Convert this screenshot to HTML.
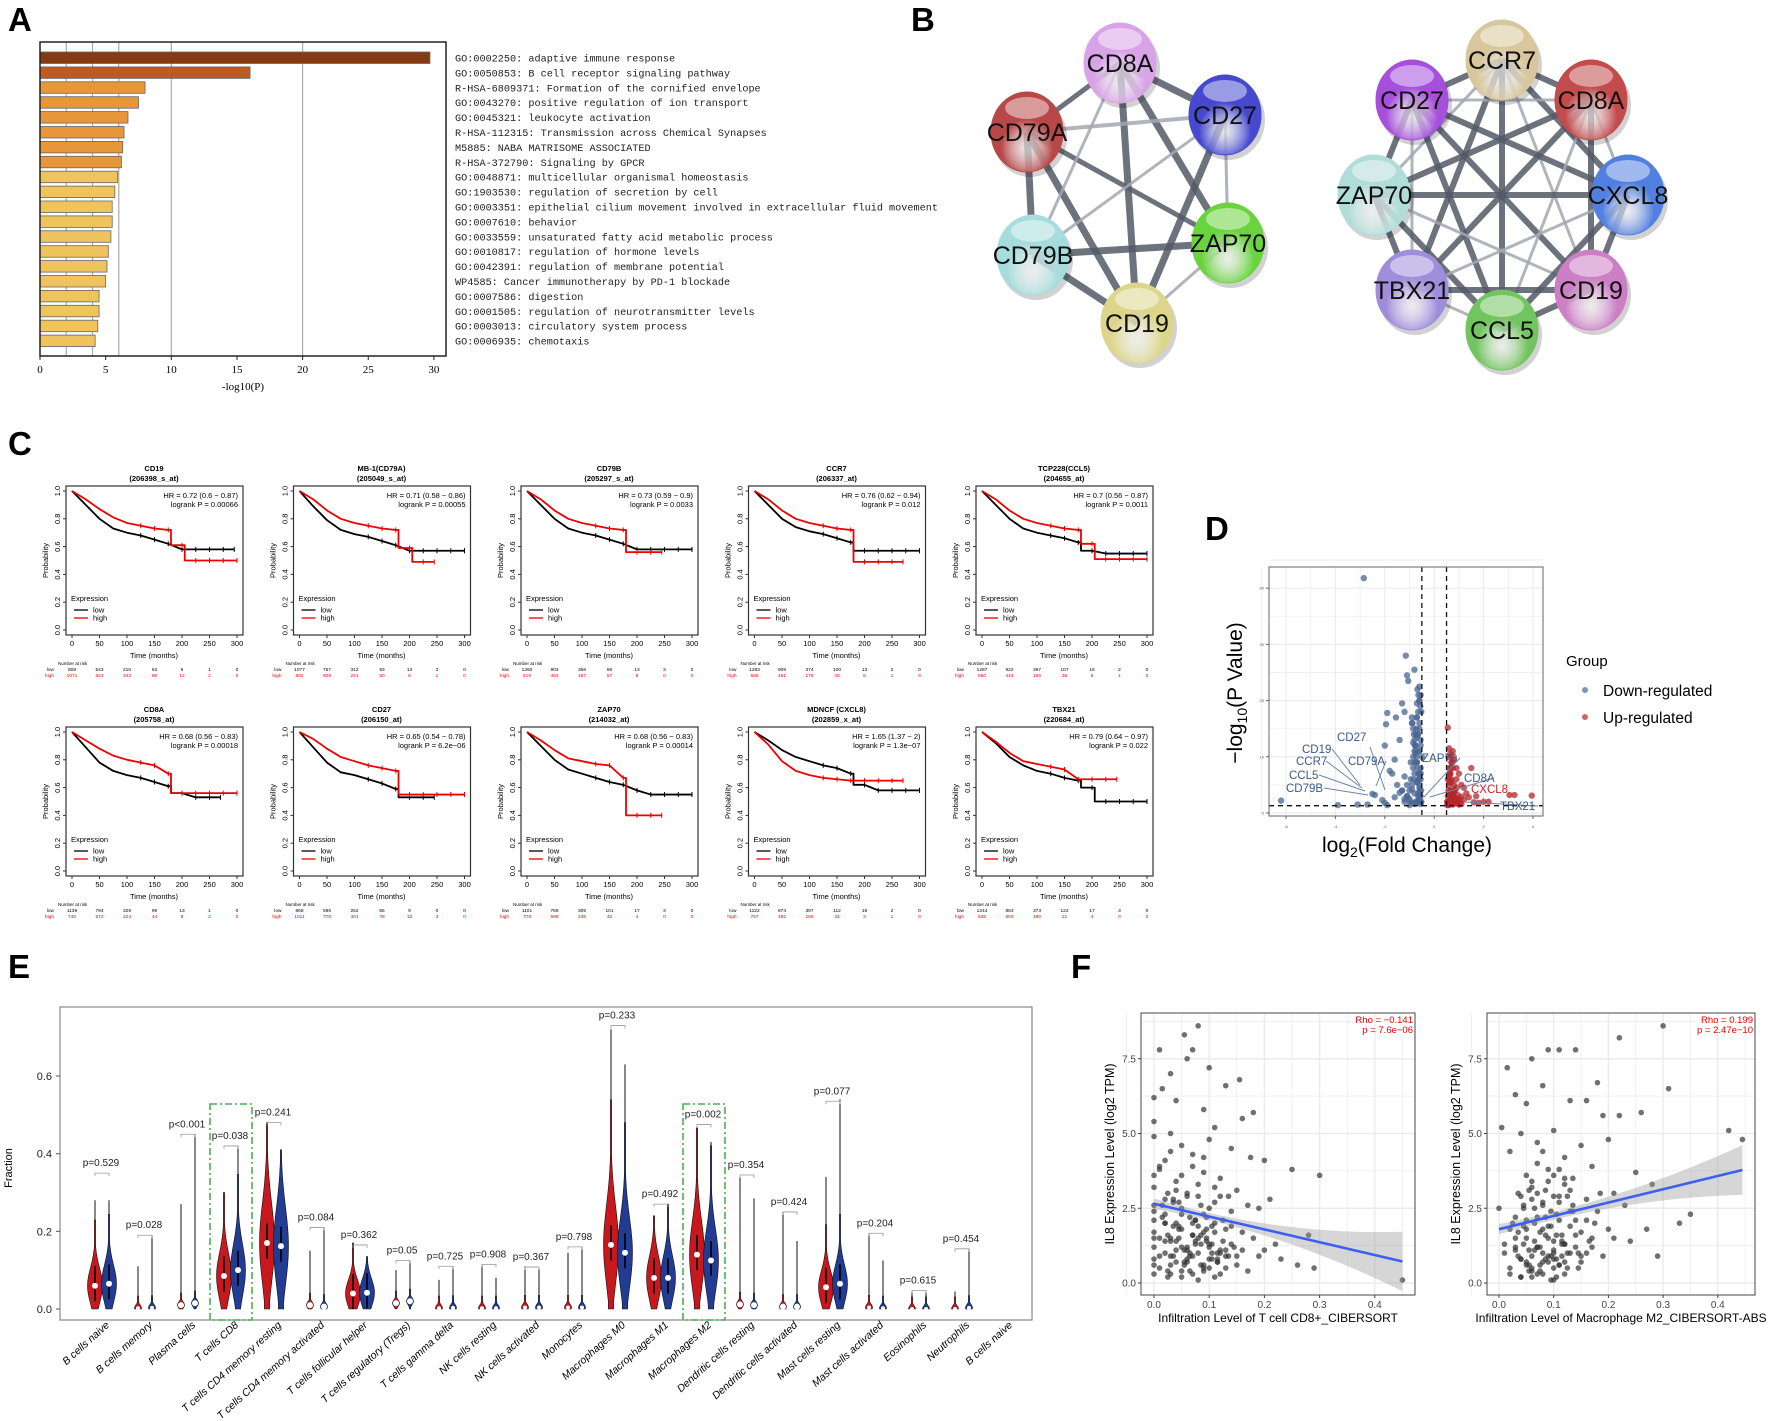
<!DOCTYPE html>
<html><head><meta charset="utf-8"><style>
html,body{margin:0;padding:0;background:#fff;}
svg{display:block;font-family:"Liberation Sans",Arial,sans-serif;}
</style></head><body>
<svg id="fig" xmlns="http://www.w3.org/2000/svg" width="1772" height="1421" viewBox="0 0 1772 1421">
<rect width="1772" height="1421" fill="#fff"/>
<g font-weight="bold" font-size="33" font-family="Liberation Sans, sans-serif">
<text x="8" y="31">A</text>
<text x="911" y="31">B</text>
<text x="8" y="455">C</text>
<text x="1205" y="540">D</text>
<text x="8" y="978">E</text>
<text x="1071" y="978">F</text>
</g>
<g id="pA"></g>
<g id="pB"></g>
<g id="pC"></g>
<g id="pD"></g>
<g id="pE"></g>
<g id="pF"></g>
</svg>
<script>
const NS="http://www.w3.org/2000/svg";
function mk(tag,attrs,parent,txt){const e=document.createElementNS(NS,tag);for(const k in attrs)e.setAttribute(k,attrs[k]);if(txt!==undefined)e.textContent=txt;parent.appendChild(e);return e;}

/* ---------- Panel A data ---------- */
const aTerms=["GO:0002250: adaptive immune response","GO:0050853: B cell receptor signaling pathway","R-HSA-6809371: Formation of the cornified envelope","GO:0043270: positive regulation of ion transport","GO:0045321: leukocyte activation","R-HSA-112315: Transmission across Chemical Synapses","M5885: NABA MATRISOME ASSOCIATED","R-HSA-372790: Signaling by GPCR","GO:0048871: multicellular organismal homeostasis","GO:1903530: regulation of secretion by cell","GO:0003351: epithelial cilium movement involved in extracellular fluid movement","GO:0007610: behavior","GO:0033559: unsaturated fatty acid metabolic process","GO:0010817: regulation of hormone levels","GO:0042391: regulation of membrane potential","WP4585: Cancer immunotherapy by PD-1 blockade","GO:0007586: digestion","GO:0001505: regulation of neurotransmitter levels","GO:0003013: circulatory system process","GO:0006935: chemotaxis"];
const aValues=[29.7,16.0,8.0,7.5,6.7,6.4,6.3,6.2,5.9,5.7,5.5,5.5,5.4,5.2,5.1,5.0,4.5,4.5,4.4,4.2];
const aTicks=[0,5,10,15,20,25,30];
const aGrid=[2,4,6,10,20];

/* ---------- Panel C data ---------- */
const kmTimes=[0,25,50,75,100,125,150,175,200,225,250,275,300];
const kmTitles=["CD19","MB-1(CD79A)","CD79B","CCR7","TCP228(CCL5)","CD8A","CD27","ZAP70","MDNCF (CXCL8)","TBX21"];
const kmProbes=["(206398_s_at)","(205049_s_at)","(205297_s_at)","(206337_at)","(204655_at)","(205758_at)","(206150_at)","(214032_at)","(202859_x_at)","(220684_at)"];
const kmHR=["HR = 0.72 (0.6 − 0.87)","HR = 0.71 (0.58 − 0.86)","HR = 0.73 (0.59 − 0.9)","HR = 0.76 (0.62 − 0.94)","HR = 0.7 (0.56 − 0.87)","HR = 0.68 (0.56 − 0.83)","HR = 0.65 (0.54 − 0.78)","HR = 0.68 (0.56 − 0.83)","HR = 1.65 (1.37 − 2)","HR = 0.79 (0.64 − 0.97)"];
const kmP=["logrank P = 0.00066","logrank P = 0.00055","logrank P = 0.0033","logrank P = 0.012","logrank P = 0.0011","logrank P = 0.00018","logrank P = 6.2e−06","logrank P = 0.00014","logrank P = 1.3e−07","logrank P = 0.022"];
const kmLow=[
[1,.90,.80,.73,.70,.68,.65,.62,.58,.58,.58,.58,null],
[1,.89,.79,.72,.69,.67,.64,.61,.57,.57,.57,.57,.57],
[1,.90,.80,.73,.70,.68,.65,.62,.58,.58,.58,.58,.58],
[1,.90,.80,.74,.71,.69,.66,.63,.57,.57,.57,.57,.57],
[1,.90,.80,.73,.70,.68,.66,.63,.57,.55,.55,.55,.55],
[1,.89,.78,.72,.69,.67,.64,.61,.56,.53,.53,null,null],
[1,.89,.78,.71,.69,.66,.63,.59,.53,.53,null,null,null],
[1,.90,.80,.73,.70,.67,.64,.62,.58,.55,.55,.55,.55],
[1,.94,.87,.82,.79,.76,.74,.70,.62,.58,.58,.58,.58],
[1,.92,.82,.76,.72,.70,.67,.65,.60,.50,.50,.50,.50]];
const kmHigh=[
[1,.94,.87,.81,.77,.75,.73,.72,.61,.50,.50,.50,.50],
[1,.94,.86,.80,.77,.75,.73,.72,.59,.49,null,null,null],
[1,.94,.86,.80,.77,.75,.73,.72,.56,.56,null,null,null],
[1,.94,.86,.80,.77,.75,.73,.72,.49,.49,.49,null,null],
[1,.94,.86,.80,.77,.75,.73,.72,.62,.51,.51,.51,.51],
[1,.94,.88,.83,.80,.78,.76,.70,.56,.56,.56,.56,.56],
[1,.95,.88,.82,.79,.76,.74,.72,.55,.55,.55,.55,.55],
[1,.94,.87,.81,.79,.77,.76,.67,.40,.40,null,null,null],
[1,.91,.79,.72,.69,.67,.66,.65,.65,.65,.65,null,null],
[1,.93,.85,.79,.77,.75,.73,.66,.66,.66,null,null,null]];
const kmRiskLow=[[808,543,210,63,9,1,0],[1077,757,312,93,13,3,0],[1260,903,366,86,13,3,0],[1283,905,374,100,13,2,0],[1287,922,397,107,16,2,0],[1139,794,329,99,13,1,0],[868,596,252,65,9,0,0],[1101,768,305,101,17,3,0],[1122,874,397,112,18,2,0],[1244,863,373,122,17,3,0]];
const kmRiskHigh=[[1071,823,343,80,12,2,0],[802,609,241,50,8,1,0],[619,463,187,57,8,0,0],[596,461,179,43,8,1,0],[550,444,156,36,5,1,0],[740,572,224,44,8,2,0],[1011,770,301,78,12,3,0],[778,598,248,42,4,0,0],[757,492,156,31,3,1,0],[635,503,180,21,4,0,0]];
const kmXTicks=[0,50,100,150,200,250,300];
const kmYTicks=[0,0.2,0.4,0.6,0.8,1.0];

/* ---------- Panel D data ---------- */
const vDownX=[-2.85,-6.2,-3.9,-3.1,-2.0,-1.15,-0.8,-1.1,-1.05,-0.6,-0.55,-0.7,-1.3,-1.2,-1.9,-1.95,-1.55,-2.0,-1.4,-1.6,-0.9,-0.75,-0.65,-0.6,-0.55,-0.5,-1.8,-1.7,-1.5,-1.3,-1.1,-1.0,-0.95,-0.85,-0.8,-0.75,-0.7,-0.65,-0.6,-0.55,-2.4,-2.7,-2.5,-2.1,-1.9,-1.6,-1.2,-0.9,-0.7,-0.6,-0.55,-0.8,-1.0,-0.65,-0.6,-0.75,-0.85,-0.55,-0.6,-0.7,-0.9,-0.8,-0.7,-0.6,-0.55,-1.0,-0.95,-0.85,-0.75,-0.65,-1.2,-1.1,-0.6,-0.7,-0.8,-0.9,-0.55,-0.65,
-0.52,-0.55,-0.58,-0.6,-0.62,-0.65,-0.68,-0.7,-0.72,-0.75,-0.78,-0.8,-0.82,-0.85,-0.88,-0.9,-0.52,-0.56,-0.6,-0.64,-0.68,-0.72,-0.76,-0.8,-0.84,-0.53,-0.57,-0.61,-0.66,-0.71,-0.55,-0.6,-0.65,-0.7,-0.75,-1.0,-1.1,-1.2,-1.3,-1.4];
const vDownY=[41.8,2.2,1.4,1.5,1.8,28,25.5,24.5,23.5,22.5,21,19.5,19.5,18,17.8,15.8,17,12,13,9.5,16,14,18,20,12,10,7.5,7,5,4,3,2.5,6,8,11,9,5.5,3.5,7,2,3.2,1.5,3.4,2.3,1.4,2.8,6.5,4.2,13.5,15,8,1.6,1.4,2.1,4.5,10.5,12.5,6,3,2,5,7,9,11,13,4,9,10,12,14,2,5,16,17,3.5,1.8,7,6,
2,3,4,5,6,7,8,9,10,11,12,13,14,15,16,17,18,19,20,21,22,15,12,9,6,4,7,11,14,17,1.6,2.5,3,5.5,2,2.2,3,2.5,4,3.6];
const vUpX=[0.55,0.6,0.65,0.7,0.75,0.8,0.9,1.0,1.1,1.2,1.5,1.7,2.0,2.2,3.05,3.25,3.95,0.6,0.7,0.8,0.65,0.75,0.9,1.0,1.3,0.55,0.6,0.7,0.85,1.1,1.4,1.6,0.62,0.72,0.95,1.2,0.58,0.68,0.78,1.8,0.55,0.6,0.65,0.7,0.8,0.9,1.05,0.58,0.62,0.75,
.52,.55,.58,.6,.62,.65,.68,.7,.72,.75,.78,.8,.85,.9,.95,1.0,.53,.57,.63,.67,.73,.77,.83,.88,1.1];
const vUpY=[15.2,11.5,10.5,9,8,9.5,8,7,5,4.5,8,3,2,2,3.2,3.2,3.1,7,6,5,4,3,4.5,2.5,3.5,2,1.5,1.8,2.2,1.6,2.8,1.9,5.5,4,3.2,2.4,1.4,2.5,3.5,1.8,6,8,7,5.5,4,6,2,10,3,1.5,
2,3,4,5,6,7,8,9,10,11,3,2,4,2.5,1.8,1.5,1.4,1.6,2.2,3.4,1.9,2.7,1.7,2.2,2.9];
const vXTicks=[-6,-4,-2,0,2,4];
const vYTicks=[0,10,20,30,40];

/* ---------- Panel E data ---------- */
const eCats=["B cells naive","B cells memory","Plasma cells","T cells CD8","T cells CD4 memory resting","T cells CD4 memory activated","T cells follicular helper","T cells regulatory (Tregs)","T cells gamma delta","NK cells resting","NK cells activated","Monocytes","Macrophages M0","Macrophages M1","Macrophages M2","Dendritic cells resting","Dendritic cells activated","Mast cells resting","Mast cells activated","Eosinophils","Neutrophils","B cells naive"];
const eRedMed=[.06,.002,.01,.085,.17,.01,.04,.015,.002,.002,.004,.004,.165,.08,.14,.012,.006,.056,.004,0,0];
const eBlueMed=[.065,.003,.015,.10,.162,.006,.042,.02,.003,.002,.004,.004,.145,.08,.125,.01,.006,.065,.002,0,.003];
const eRedMax=[.28,.11,.27,.30,.48,.15,.17,.10,.075,.115,.11,.145,.72,.24,.47,.34,.25,.34,.195,.045,.045];
const eBlueMax=[.28,.19,.45,.42,.41,.21,.135,.125,.11,.08,.105,.16,.63,.27,.43,.285,.175,.54,.125,.045,.155];
const ePText=["p=0.529","p=0.028","p<0.001","p=0.038","p=0.241","p=0.084","p=0.362","p=0.05","p=0.725","p=0.908","p=0.367","p=0.798","p=0.233","p=0.492","p=0.002","p=0.354","p=0.424","p=0.077","p=0.204","p=0.615","p=0.454"];
const ePBracket=[.35,.19,.45,.42,.48,.21,.165,.125,.11,.115,.108,.16,.73,.27,.475,.345,.25,.535,.195,.048,.155];
const eYTicks=[0,0.2,0.4,0.6];
const eHighlight=[3,14];

/* ---------- Panel F data ---------- */
const f1X=[0,0,0,0,0,0,0,0,0,0,.01,.01,.01,.015,.02,.02,.02,.025,.03,.03,.03,.035,.04,.04,.04,.045,.05,.05,.05,.055,.06,.06,.06,.065,.07,.07,.07,.075,.08,.08,.08,.085,.09,.09,.09,.095,.1,.1,.1,.105,.11,.11,.115,.12,.12,.125,.13,.13,.135,.14,.14,.145,.15,.15,.155,.16,.16,.17,.17,.175,.18,.18,.19,.19,.2,.2,.21,.22,.23,.25,.26,.28,.29,.3,.45,.02,.04,.06,.08,.1,.12,.03,.05,.07,.09,.11,.13,.01,.035,.055,.075,.095,.115,.135,.045,.065,.085,.105,.025,.015,
.01,.02,.03,.04,.05,.06,.07,.08,.09,.1,.11,.12,.13,.14,.015,.025,.035,.045,.055,.065,.075,.085,.095,.105,.115,.125,0,0,0,0,.02,.04,.06,.08,.1,.12,.14,.16,.03,.05,.07,.09,.11,.13,.15,.01,.03,.05,.07,.09,.06,.07,.08,.05,.04,.09,.1,.11,.03,.02,.065,.075,.085,.055,.045,.095,.105,.035,.025,.115];
const f1Y=[0.3,1.2,2.1,3.2,4.9,6.2,0.8,1.7,2.6,5.4,7.8,0.5,3.8,6.5,1.0,2.3,4.1,0.2,5.0,1.5,7.0,2.8,0.7,3.4,6.1,1.9,0.4,2.5,4.6,8.3,1.1,3.0,7.5,0.9,2.0,4.3,7.8,1.4,0.1,2.9,8.6,1.6,0.6,3.7,5.8,2.2,1.3,4.8,7.2,0.8,2.7,5.2,1.0,0.3,3.5,2.1,1.8,6.6,0.9,2.4,4.5,1.2,0.6,3.1,6.8,1.7,5.5,0.4,2.6,4.2,1.5,5.7,0.9,2.5,1.1,4.1,2.8,1.3,0.8,3.8,0.6,1.6,0.5,3.6,0.1,2.0,1.4,0.7,1.9,1.2,1.0,0.9,2.3,1.6,0.5,3.2,1.1,1.5,2.7,0.6,2.1,1.4,0.7,2.9,1.8,0.4,2.6,1.3,3.0,2.2,
0.9,1.4,0.6,2.0,1.2,0.8,1.6,1.0,2.3,0.5,1.7,1.1,0.9,1.3,2.6,0.4,1.9,1.5,0.7,2.2,1.3,0.6,1.8,1.0,0.8,1.4,0.6,1.5,2.4,3.6,2.8,3.1,2.9,3.3,2.5,2.9,1.9,1.1,0.3,0.2,0.3,0.4,0.2,0.5,0.9,3.9,4.4,3.6,3.9,4.2,1.2,0.9,1.5,1.8,1.1,1.7,0.8,2.0,1.4,2.0,1.0,2.1,1.3,1.1,2.7,1.5,1.9,0.9,1.6,0.7];
const f2X=[0,.005,.01,.015,.02,.02,.025,.03,.03,.035,.04,.04,.045,.05,.05,.055,.06,.06,.065,.07,.07,.075,.08,.08,.085,.09,.09,.095,.1,.1,.105,.11,.11,.115,.12,.12,.125,.13,.13,.135,.14,.14,.145,.15,.15,.16,.16,.17,.17,.18,.18,.19,.19,.2,.2,.21,.21,.22,.22,.23,.24,.25,.26,.27,.28,.29,.3,.31,.33,.35,.42,.445,.06,.08,.1,.12,.07,.09,.11,.05,.03,.13,.15,.04,.1,.08,.06,.12,.14,.09,.02,.07,.11,.16,.05,.1,.085,.095,.075,.065,.115,.125,.055,.045,.135,.105,.165,.175,.035,.185,
.06,.07,.08,.09,.1,.11,.12,.05,.04,.03,.065,.075,.085,.095,.105,.115,.055,.045,.035,.125,.07,.08,.09,.1,.06,.05,.11,.12,.13,.04,.02,.01,.03,.14,.15,.16,.17,.06,.08,.1,.075,.085,.095,.065,.055,.105,.115,.045,.135,.145,.07,.09,.11,.08,.1,.06,.12,.05,.13,.04];
const f2Y=[2.5,5.2,1.0,7.2,0.3,4.4,2.0,6.3,1.2,3.0,5.0,0.8,2.6,1.5,6.0,0.4,3.4,7.5,1.1,2.2,4.7,0.6,1.8,6.6,3.1,0.9,7.8,2.4,1.4,5.1,0.2,3.8,7.8,1.6,0.7,4.2,2.9,6.1,1.0,3.5,7.8,2.1,0.5,4.6,1.7,2.8,6.1,3.9,1.2,6.7,2.4,0.9,5.6,1.8,4.8,3.0,1.5,5.6,8.2,2.6,1.4,3.7,5.7,1.8,3.3,0.9,8.6,6.5,2.0,2.3,5.1,4.8,0.5,1.0,0.8,1.3,0.3,1.9,0.6,2.1,1.5,2.4,0.9,0.2,1.1,2.7,0.4,3.3,1.6,0.7,1.8,1.2,2.9,1.0,0.6,3.6,2.2,0.1,1.7,2.5,1.3,0.5,3.1,1.9,2.6,0.8,1.4,2.0,0.9,3.0,
0.9,1.2,0.7,1.5,1.0,0.6,1.3,1.8,0.8,1.1,2.0,0.4,1.6,0.9,2.3,1.4,0.6,2.5,1.7,1.0,3.0,2.6,3.4,2.9,3.2,3.6,2.7,0.3,1.9,0.2,0.5,1.3,2.2,1.2,0.7,2.1,1.5,0.2,0.3,0.1,1.2,0.8,1.9,1.4,1.1,1.6,0.9,1.3,2.4,1.0,4.0,3.8,2.1,4.4,0.5,2.8,3.5,0.7,3.1,2.9];
const f1Fit=[2.65,0.72];
const f2Fit=[1.8,3.78];
const fXTicks=[0,0.1,0.2,0.3,0.4];
const fYTicks=[0,2.5,5.0,7.5];

/* ================= Panel A ================= */
(function(){
const g=document.getElementById('pA');
const x0=40,x1=446,y0=42,y1=356,sx=13.13;
const X=v=>x0+v*sx;
aGrid.forEach(v=>{const l=mk('line',{x1:X(v),x2:X(v),y1:y0,y2:y1,stroke:'#aaa','stroke-width':1.2},g);

});
aValues.forEach((v,i)=>{const y=52+i*14.9;
const c=i===0?'#843a12':i===1?'#bf5b20':i<8?'#e8963a':'#f0c45c';
const r=mk('rect',{x:x0,y:y,width:X(v)-x0,height:11.5,fill:c,stroke:'#666','stroke-width':0.8},g);


const t=mk('text',{x:455,y:y+9.5,'font-size':10.2,'font-family':'Liberation Mono, monospace',fill:'#222'},g,aTerms[i]);

});
const b=mk('rect',{x:x0,y:y0,width:x1-x0,height:y1-y0,fill:'none',stroke:'#222','stroke-width':1.5},g);


aTicks.forEach(v=>{mk('line',{x1:X(v),x2:X(v),y1:y1,y2:y1+4,stroke:'#222'},g);
const t=mk('text',{x:X(v),y:373,'font-size':11,'text-anchor':'middle','font-family':'Liberation Serif, serif'},g,v);

});
const tt=mk('text',{x:243,y:390,'font-size':11,'text-anchor':'middle','font-family':'Liberation Serif, serif'},g,'-log10(P)');


})();

/* ================= Panel B ================= */
(function(){
const g=document.getElementById('pB');
const defs=mk('defs',{},g);
const nets=[
{nodes:{CD8A:[1120,63,'#d9a3e8'],CD27:[1225,115,'#4649d0'],CD79A:[1027,132,'#b84848'],ZAP70:[1228,243,'#6ad43e'],CD79B:[1033,255,'#a6dcdc'],CD19:[1137,323,'#dcd68c']},
edges:[['CD8A','CD27',7],['CD8A','ZAP70',7],['CD8A','CD19',7],['CD27','CD19',7],['CD79A','CD79B',7],['CD79A','CD19',7],['CD79B','CD19',7],['CD79B','ZAP70',7],['CD79A','CD8A',5],['CD79A','CD27',4],['CD79A','ZAP70',5],['CD8A','CD79B',3],['CD27','CD79B',3],['CD27','ZAP70',3],['ZAP70','CD19',3]]},
{nodes:{CCR7:[1502,60,'#d8c69c'],CD27:[1412,100,'#a54fdc'],CD8A:[1591,100,'#c24b4b'],ZAP70:[1374,195,'#b0ddd8'],CXCL8:[1628,195,'#5280e0'],TBX21:[1412,290,'#9f8ddc'],CD19:[1591,290,'#cc7fc4'],CCL5:[1502,330,'#72c460']},edges:[]}];
const rn=Object.keys(nets[1].nodes);
for(let i=0;i<rn.length;i++)for(let j=i+1;j<rn.length;j++){nets[1].edges.push([rn[i],rn[j],((i+j)%3===0)?3:6]);}
let gid=0;
nets.forEach((net,ni)=>{
net.edges.forEach(e=>{const a=net.nodes[e[0]],b=net.nodes[e[1]];
const l=mk('line',{x1:a[0],y1:a[1],x2:b[0],y2:b[1],stroke:e[2]>4?'#545a66':'#a2a7b0','stroke-width':e[2],'stroke-opacity':0.85},g);

});
for(const k in net.nodes){const n=net.nodes[k];const id='gr'+(gid++);
const rg=mk('radialGradient',{id:id,cx:'50%',cy:'70%',r:'60%'},defs);
mk('stop',{offset:'0%','stop-color':'#fff','stop-opacity':0.6},rg);
mk('stop',{offset:'60%','stop-color':n[2]},rg);
mk('stop',{offset:'100%','stop-color':n[2]},rg);
mk('ellipse',{cx:n[0]+3,cy:n[1]+5,rx:37,ry:40,fill:'#000','fill-opacity':0.18},g);
const c=mk('ellipse',{cx:n[0],cy:n[1],rx:36,ry:40,fill:'url(#'+id+')',stroke:n[2],'stroke-width':1},g);


mk('ellipse',{cx:n[0],cy:n[1]-24,rx:22,ry:11,fill:'#fff','fill-opacity':0.45},g);
const t=mk('text',{x:n[0],y:n[1]+9,'font-size':25,'text-anchor':'middle',fill:'#111'},g,k);

}
});
})();

/* ================= Panel C ================= */
(function(){
const g=document.getElementById('pC');
kmTitles.forEach((title,p)=>{
const c=p%5,r=Math.floor(p/5);
const x0=66+227.5*c,y0=486+241*r,w=177,h=149;
const pg=mk('g',{},g);


const X=t=>x0+6+t*(165/300), Y=s=>y0+5+(1-s)*139;
const fr=mk('rect',{x:x0,y:y0,width:w,height:h,fill:'none',stroke:'#333','stroke-width':1.2},pg);


mk('text',{x:x0+88,y:y0-15,'font-size':7.5,'font-weight':'bold','text-anchor':'middle'},pg,title);
mk('text',{x:x0+88,y:y0-5,'font-size':7.5,'font-weight':'bold','text-anchor':'middle'},pg,kmProbes[p]);
mk('text',{x:x0+172,y:y0+12,'font-size':7.5,'text-anchor':'end'},pg,kmHR[p]);
mk('text',{x:x0+172,y:y0+21,'font-size':7.5,'text-anchor':'end'},pg,kmP[p]);
kmXTicks.forEach(v=>{mk('line',{x1:X(v),x2:X(v),y1:y0+h,y2:y0+h+3,stroke:'#333'},pg);
mk('text',{x:X(v),y:y0+h+11,'font-size':7.5,'text-anchor':'middle'},pg,v);});
kmYTicks.forEach(v=>{mk('line',{x1:x0,x2:x0-3,y1:Y(v),y2:Y(v),stroke:'#333'},pg);
mk('text',{x:0,y:0,'font-size':7.5,'text-anchor':'middle',transform:'translate('+(x0-6)+','+Y(v)+') rotate(-90)'},pg,v.toFixed(1));});
mk('text',{x:0,y:0,'font-size':7.5,'text-anchor':'middle',transform:'translate('+(x0-18)+','+(y0+h/2)+') rotate(-90)'},pg,'Probability');
mk('text',{x:x0+88,y:y0+h+23,'font-size':7.5,'text-anchor':'middle'},pg,'Time (months)');
mk('text',{x:x0+5,y:y0+115,'font-size':7.5},pg,'Expression');
mk('line',{x1:x0+8,x2:x0+22,y1:y0+124,y2:y0+124,stroke:'#000','stroke-width':1.3},pg);
mk('line',{x1:x0+8,x2:x0+22,y1:y0+132,y2:y0+132,stroke:'#e00','stroke-width':1.3},pg);
mk('text',{x:x0+27,y:y0+126.5,'font-size':7.5},pg,'low');
mk('text',{x:x0+27,y:y0+134.5,'font-size':7.5},pg,'high');
[[kmLow[p],'#000','km-curve-low'],[kmHigh[p],'#e00','km-curve-high']].forEach(([arr,col,nm])=>{
let d='M'+X(0)+','+Y(arr[0]);let last=0;
for(let i=1;i<arr.length;i++){if(arr[i]===null)break;
if(i>=8&&arr[i]<arr[i-1]-0.04){d+=' L'+X(kmTimes[i]-20)+','+Y(arr[i-1])+' V'+Y(arr[i])+' L'+X(kmTimes[i])+','+Y(arr[i]);}
else d+=' L'+X(kmTimes[i])+','+Y(arr[i]);last=i;}
const endT=Math.min(kmTimes[last]+20,300);d+=' H'+X(endT);
const pth=mk('path',{d:d,fill:'none',stroke:col,'stroke-width':1.8,'stroke-linejoin':'round'},pg);


for(let i=5;i<=last;i++){mk('line',{x1:X(kmTimes[i]),x2:X(kmTimes[i]),y1:Y(arr[i])-2.5,y2:Y(arr[i])+2.5,stroke:col,'stroke-width':1},pg);}
mk('line',{x1:X(endT),x2:X(endT),y1:Y(arr[last])-2.5,y2:Y(arr[last])+2.5,stroke:col},pg);
});
mk('text',{x:x0-8,y:y0+h+30,'font-size':4.5},pg,'Number at risk');
mk('text',{x:x0-12,y:y0+h+36,'font-size':4.8,'text-anchor':'end'},pg,'low');
mk('text',{x:x0-12,y:y0+h+42,'font-size':4.8,'text-anchor':'end',fill:'#e00'},pg,'high');
kmXTicks.forEach((v,i)=>{mk('text',{x:X(v),y:y0+h+36,'font-size':4.8,'text-anchor':'middle'},pg,kmRiskLow[p][i]);
mk('text',{x:X(v),y:y0+h+42,'font-size':4.8,'text-anchor':'middle',fill:'#e00'},pg,kmRiskHigh[p][i]);});
});
})();

/* ================= Panel D ================= */
(function(){
const g=document.getElementById('pD');
const x0=1269,x1=1543,y0=567,y1=816;
const X=v=>1286+(v+6)*24.7, Y=v=>813-v*5.62;
for(let v=-7;v<=4.5;v+=1){mk('line',{x1:X(v),x2:X(v),y1:y0,y2:y1,stroke:'#ececec','stroke-width':v%2===0?1.2:0.7},g);}
for(let v=0;v<=45;v+=5){mk('line',{x1:x0,x2:x1,y1:Y(v),y2:Y(v),stroke:'#ececec','stroke-width':v%10===0?1.2:0.7},g);}
vDownX.forEach((x,i)=>{const c=mk('circle',{cx:X(x),cy:Y(vDownY[i]),r:3.2,fill:'#4a6592','fill-opacity':0.75},g);

});
vUpX.forEach((x,i)=>{const c=mk('circle',{cx:X(x),cy:Y(vUpY[i]),r:3.2,fill:'#b5262c','fill-opacity':0.75},g);

});
[-0.5,0.5].forEach(v=>{mk('line',{x1:X(v),x2:X(v),y1:y0,y2:y1,stroke:'#111','stroke-width':1.3,'stroke-dasharray':'5,4'},g);});
mk('line',{x1:x0,x2:x1,y1:Y(1.3),y2:Y(1.3),stroke:'#111','stroke-width':1.3,'stroke-dasharray':'5,4'},g);
const fr=mk('rect',{x:x0,y:y0,width:x1-x0,height:y1-y0,fill:'none',stroke:'#666','stroke-width':1},g);


vXTicks.forEach(v=>{mk('line',{x1:X(v),x2:X(v),y1:y1,y2:y1+3,stroke:'#666'},g);mk('text',{x:X(v),y:y1+12,'font-size':4,'text-anchor':'middle',fill:'#555'},g,v);});
vYTicks.forEach(v=>{mk('line',{x1:x0,x2:x0-3,y1:Y(v),y2:Y(v),stroke:'#666'},g);mk('text',{x:x0-5,y:Y(v)+1.5,'font-size':4,'text-anchor':'end',fill:'#555'},g,v);});
const labs=[['CD27',1337,741,'#3d5a8a',[1370,747]],['CD19',1302,753,'#3d5a8a',[1360,785]],['CCR7',1296,765,'#3d5a8a',[1362,788]],['CCL5',1289,779,'#3d5a8a',[1365,791]],['CD79B',1286,792,'#3d5a8a',[1368,795]],['CD79A',1348,765,'#3d5a8a',[1376,786]],['ZAP70',1422,762,'#3d5a8a',[1424,797]],['CD8A',1464,782,'#3d5a8a',[1430,797]],['CXCL8',1471,793,'#c0262c',null],['TBX21',1500,810,'#3d5a8a',[1465,802]]];
labs.forEach(l=>{if(l[4]){mk('line',{x1:l[4][0],y1:l[4][1],x2:l[0]==='CD27'?1385:(l[1]+(l[0].length>4?38:30)),y2:l[0]==='CD27'?790:(l[2]-4),stroke:'#6d85aa','stroke-width':1},g);}
const t=mk('text',{x:l[1],y:l[2],'font-size':11.5,fill:l[3]},g,l[0]);

});
const yt=mk('text',{x:0,y:0,'font-size':21,'text-anchor':'middle',transform:'translate(1242,693) rotate(-90)'},g);
yt.innerHTML='−log<tspan font-size="14" dy="5">10</tspan><tspan dy="-5">(P Value)</tspan>';


const xt=mk('text',{x:1407,y:852,'font-size':21,'text-anchor':'middle'},g);
xt.innerHTML='log<tspan font-size="14" dy="5">2</tspan><tspan dy="-5">(Fold Change)</tspan>';


mk('text',{x:1566,y:666,'font-size':15},g,'Group');
const l1=mk('circle',{cx:1585,cy:690,r:3,fill:'#4a6592','fill-opacity':0.7},g);


mk('text',{x:1603,y:696,'font-size':15.5},g,'Down-regulated');
const l2=mk('circle',{cx:1585,cy:717,r:3,fill:'#b5262c','fill-opacity':0.7},g);


mk('text',{x:1603,y:723,'font-size':15.5},g,'Up-regulated');
})();

/* ================= Panel E ================= */
(function(){
const g=document.getElementById('pE');
const x0=60,x1=1032,y0=1007,y1=1320;
const Y=v=>1309-v*388.3, CX=i=>102+43*i;
const fr=mk('rect',{x:x0,y:y0,width:x1-x0,height:y1-y0,fill:'none',stroke:'#888','stroke-width':1.2},g);


eYTicks.forEach(v=>{mk('line',{x1:x0,x2:x0-4,y1:Y(v),y2:Y(v),stroke:'#555'},g);
mk('text',{x:x0-8,y:Y(v)+4,'font-size':11,'text-anchor':'end',fill:'#222'},g,v.toFixed(1));});
mk('text',{x:0,y:0,'font-size':11,'text-anchor':'middle',transform:'translate(12,1168) rotate(-90)'},g,'Fraction');
function violin(cx,med,mx,col,nm){
const W=med>0.03?7.5:3.5, s=med>0.03?(med*0.75+0.02):0.012;
const top=Math.min(mx,med+s*2.6);
let R=[],L=[];
const steps=30;
for(let k=0;k<=steps;k++){const v=top*k/steps;let w=W*Math.exp(-Math.pow((v-med)/s,2));if(v<med&&med>0.03)w=Math.max(w,W*0.35);w=Math.max(w,0.6);R.push([cx+w,Y(v)]);L.push([cx-w,Y(v)]);}
let d='M'+L[0][0]+','+L[0][1];R.forEach(pt=>d+=' L'+pt[0]+','+pt[1]);L.reverse().forEach(pt=>d+=' L'+pt[0]+','+pt[1]);d+='Z';
mk('line',{x1:cx,x2:cx,y1:Y(0),y2:Y(mx),stroke:'#111','stroke-width':1},g);
const pth=mk('path',{d:d,fill:col,stroke:'#111','stroke-width':0.6},g);


if(med>0.03)mk('line',{x1:cx,x2:cx,y1:Y(Math.max(0,med-0.04)),y2:Y(med+0.05),stroke:'#000','stroke-width':1.6},g);
mk('circle',{cx:cx,cy:Y(med),r:med>0.005?3:2,fill:'#fff'},g);}
eRedMed.forEach((m,i)=>{const cx=CX(i);
violin(cx-7,m,eRedMax[i],'#c8171d','violin-low-group');
violin(cx+7,eBlueMed[i],eBlueMax[i],'#213c92','violin-high-group');
const by=Y(ePBracket[i]);
mk('path',{d:'M'+(cx-7)+','+(by+3)+' V'+by+' H'+(cx+7)+' V'+(by+3),fill:'none',stroke:'#999','stroke-width':0.8},g);
const t=mk('text',{x:cx-1,y:by-7,'font-size':10,'text-anchor':'middle',fill:'#222'},g,ePText[i]);

});
eHighlight.forEach(i=>{const cx=CX(i);
const r=mk('rect',{x:cx-21,y:1104,width:42,height:216,fill:'none',stroke:'#4caf50','stroke-width':1.6,'stroke-dasharray':'7,3,2,3'},g);

});
eCats.forEach((c,i)=>{const t=mk('text',{x:0,y:0,'font-size':10.5,'font-style':'italic','text-anchor':'end',transform:'translate('+(CX(i)+8)+',1326) rotate(-42)'},g,c);

});
})();

/* ================= Panel F ================= */
(function(){
const g=document.getElementById('pF');
const cfgs=[{xs:f1X,ys:f1Y,fit:f1Fit,bx:1141,bw:274,x0p:1154,sx:552,xmax:0.45,rho:'Rho = −0.141',p:'p = 7.6e−06',xl:'Infiltration Level of T cell CD8+_CIBERSORT',band:[0.12,0.62]},
{xs:f2X,ys:f2Y,fit:f2Fit,bx:1487,bw:268,x0p:1499,sx:547,xmax:0.445,rho:'Rho = 0.199',p:'p = 2.47e−10',xl:'Infiltration Level of Macrophage M2_CIBERSORT-ABS',band:[0.13,0.5]}];
const yT=1013,yB=1295,Y=v=>1283-v*29.9;
cfgs.forEach((c,k)=>{
const sg=mk('g',{},g);


const X=v=>c.x0p+v*c.sx;
for(let v=-0.05;v<=0.46;v+=0.05){mk('line',{x1:X(v),x2:X(v),y1:yT,y2:yB,stroke:'#ebebeb','stroke-width':Math.round(v*100)%10===0?1.4:0.7},sg);}
for(let v=0;v<=8.75;v+=1.25){mk('line',{x1:c.bx,x2:c.bx+c.bw,y1:Y(v),y2:Y(v),stroke:'#ebebeb','stroke-width':Math.round(v*100)%250===0?1.4:0.7},sg);}
c.xs.forEach((x,i)=>{const pt=mk('circle',{cx:X(x),cy:Y(c.ys[i]),r:2.8,fill:'#333','fill-opacity':0.7},sg);

});
const f=v=>c.fit[0]+(c.fit[1]-c.fit[0])*v/c.xmax;
const bw=v=>c.band[0]+c.band[1]*Math.pow((v-0.09)/c.xmax,2)*2.2;
let d='';const n=20;
for(let i=0;i<=n;i++){const v=c.xmax*i/n;d+=(i?' L':'M')+X(v)+','+Y(f(v)+bw(v));}
for(let i=n;i>=0;i--){const v=c.xmax*i/n;d+=' L'+X(v)+','+Y(f(v)-bw(v));}
mk('path',{d:d+'Z',fill:'#999','fill-opacity':0.4},sg);
const ln=mk('line',{x1:X(0),y1:Y(f(0)),x2:X(c.xmax),y2:Y(f(c.xmax)),stroke:'#3b5ff0','stroke-width':2.6},sg);


mk('rect',{x:c.bx,y:yT,width:c.bw,height:yB-yT,fill:'none',stroke:'#444','stroke-width':1},sg);
fXTicks.forEach(v=>{mk('line',{x1:X(v),x2:X(v),y1:yB,y2:yB+3,stroke:'#444'},sg);mk('text',{x:X(v),y:yB+13,'font-size':10,'text-anchor':'middle',fill:'#444'},sg,v.toFixed(1));});
fYTicks.forEach(v=>{mk('line',{x1:c.bx,x2:c.bx-3,y1:Y(v),y2:Y(v),stroke:'#444'},sg);mk('text',{x:c.bx-5,y:Y(v)+3.5,'font-size':10,'text-anchor':'end',fill:'#444'},sg,v.toFixed(1));});
mk('text',{x:c.bx+c.bw-2,y:yT+10,'font-size':9.5,'text-anchor':'end',fill:'#e00'},sg,c.rho);
mk('text',{x:c.bx+c.bw-2,y:yT+20,'font-size':9.5,'text-anchor':'end',fill:'#e00'},sg,c.p);
const xt=mk('text',{x:c.bx+c.bw/2,y:yB+27,'font-size':12,'text-anchor':'middle'},sg,c.xl);


const yt=mk('text',{x:0,y:0,'font-size':12.5,'text-anchor':'middle',transform:'translate('+(c.bx-27)+',1154) rotate(-90)'},sg,'IL8 Expression Level (log2 TPM)');


});
})();
</script>
</body></html>
